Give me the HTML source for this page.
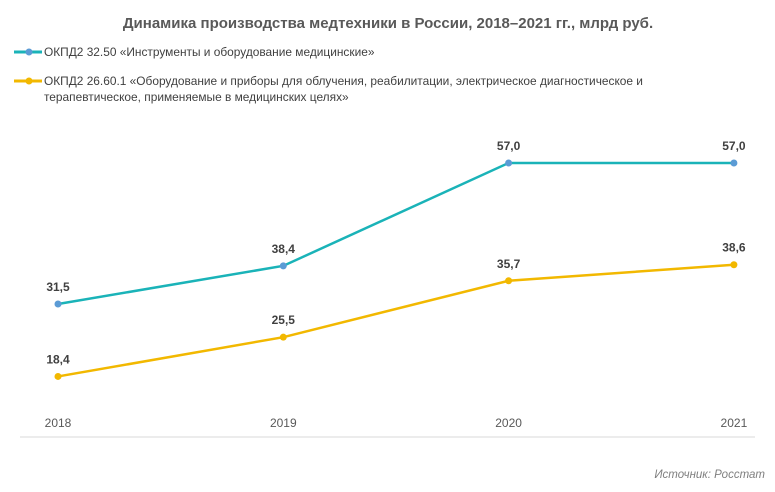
<!DOCTYPE html>
<html><head><meta charset="utf-8"><style>
body{margin:0;background:#fff;width:775px;height:487px;overflow:hidden;font-family:"Liberation Sans",sans-serif}
</style></head><body>
<svg width="775" height="487" xmlns="http://www.w3.org/2000/svg">
<text x="388" y="28" text-anchor="middle" font-size="15" font-weight="bold" fill="#595959">Динамика производства медтехники в России, 2018–2021 гг., млрд руб.</text>
<g>
<line x1="14" y1="52" x2="42" y2="52" stroke="#1ab3b8" stroke-width="3"/><circle cx="29" cy="52" r="3.5" fill="#5b9bd5"/>
<text x="44" y="56" font-size="11.9" fill="#404040">ОКПД2 32.50 «Инструменты и оборудование  медицинские»</text></g>
<g>
<line x1="14" y1="81" x2="42" y2="81" stroke="#f2b800" stroke-width="3"/><circle cx="29" cy="81" r="3.5" fill="#f2b800"/>
<text x="44" y="85" font-size="11.9" fill="#404040">ОКПД2 26.60.1 «Оборудование  и приборы для облучения, реабилитации, электрическое диагностическое и</text>
<text x="44" y="101" font-size="11.9" fill="#404040">терапевтическое,  применяемые в  медицинских целях»</text></g>
<line x1="20" y1="437" x2="755" y2="437" stroke="#d9d9d9"/>
<g id="plot"></g>
<text x="765" y="478" text-anchor="end" font-size="11.5" font-style="italic" fill="#7f7f7f">Источник: Росстат</text>
</svg>
<script>
const years=["2018","2019","2020","2021"];
const series1=[31.5,38.4,57.0,57.0];
const series2=[18.4,25.5,35.7,38.6];
const labels1=["31,5","38,4","57,0","57,0"];
const labels2=["18,4","25,5","35,7","38,6"];
const NS="http://www.w3.org/2000/svg";
const g=document.getElementById('plot');
const xs=i=>58+i*225.3;
const ys=v=>478.2-v*5.53;
function mk(t,a){const e=document.createElementNS(NS,t);for(const k in a)e.setAttribute(k,a[k]);g.appendChild(e);return e;}
years.forEach((y,i)=>{const t=mk('text',{x:xs(i),y:427,'text-anchor':'middle','font-size':12,fill:'#595959'});t.textContent=y;

});
function draw(vals,labs,col,mcol,name){
const p=mk('polyline',{points:vals.map((v,i)=>xs(i)+','+ys(v)).join(' '),fill:'none',stroke:col,'stroke-width':2.5});


vals.forEach((v,i)=>{const c=mk('circle',{cx:xs(i),cy:ys(v),r:3.5,fill:mcol});


const t=mk('text',{x:xs(i),y:ys(v)-13,'text-anchor':'middle','font-size':12,'font-weight':'bold',fill:'#404040'});t.textContent=labs[i];

});}
draw(series1,labels1,'#1ab3b8','#5b9bd5','series-instruments');
draw(series2,labels2,'#f2b800','#f2b800','series-equipment');
</script>
</body></html>
